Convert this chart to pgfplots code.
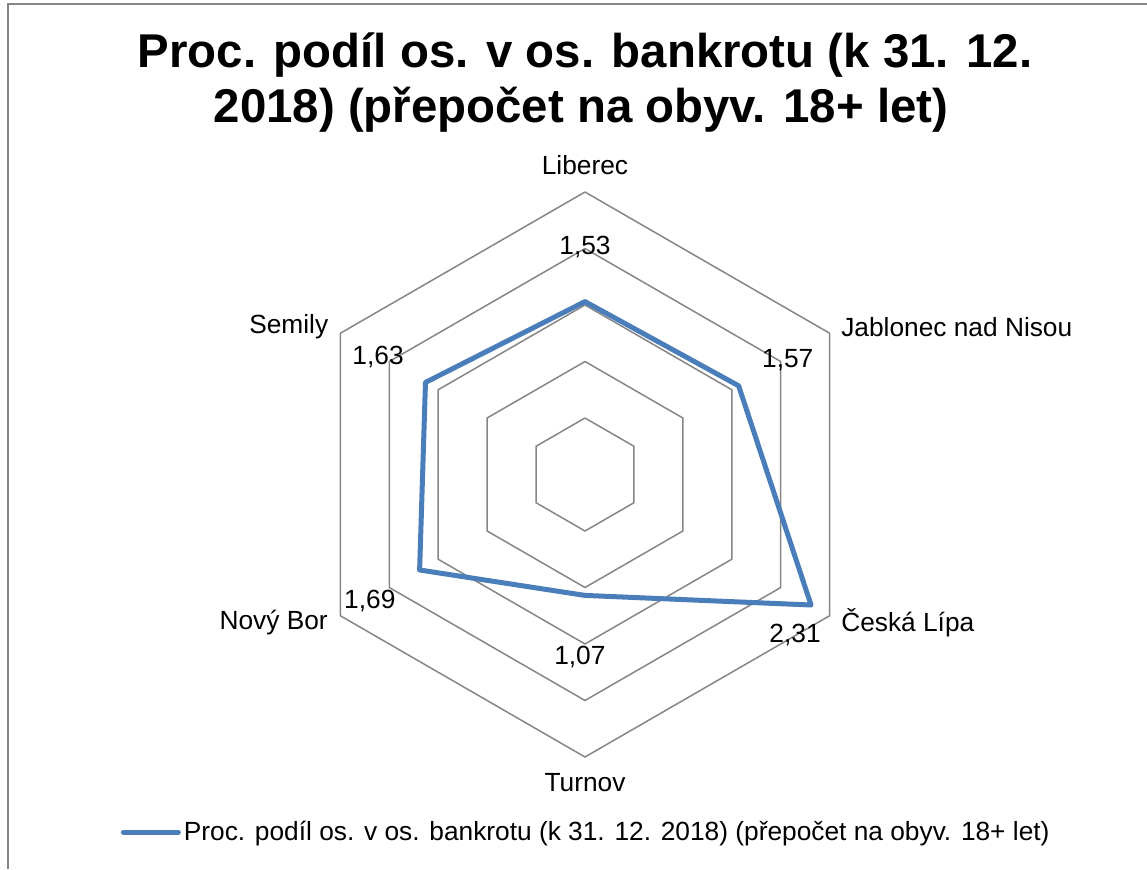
\documentclass[border=0pt]{standalone}
\usepackage{fontspec}
\setmainfont{Liberation Sans}
\usepackage{pgfplots}
\pgfplotsset{compat=1.18}
\usepgfplotslibrary{polar}
\definecolor{serblue}{HTML}{4A7EBB}
\definecolor{gridgray}{HTML}{868686}
\begin{document}
\begin{tikzpicture}
\useasboundingbox (0,0) rectangle (573.5pt,434.5pt);
\fill[white] (0,0) rectangle (573.5pt,434.5pt);
\draw[gridgray,line width=0.6pt] (4pt,0) -- (4pt,432.5pt) -- (573.5pt,432.5pt);
\node[font=\fontsize{23.7}{28}\selectfont\bfseries,anchor=base,inner sep=0pt] at (292.5pt,400.5pt) {Proc. podíl os. v os. bankrotu (k 31. 12.};
\node[font=\fontsize{23.7}{28}\selectfont\bfseries,anchor=base,inner sep=0pt] at (290.5pt,373pt) {2018) (přepočet na obyv. 18+ let)};
\begin{polaraxis}[
  at={(292.5pt,197.25pt)}, anchor=center,
  scale only axis, width=282.5pt, height=282.5pt,
  xmin=0, xmax=360, ymin=0, ymax=2.5, hide axis, clip=false,
  legend style={draw=none, fill=none, at={(0.503,-0.133)}, anchor=center, font=\fontsize{13.15}{15}\selectfont, nodes={inner sep=1.5pt}},
  legend cell align=left,
  legend image code/.code={\draw[#1] (0pt,0pt) -- (27.5pt,0pt);},
]
\addplot[gridgray, line width=0.75pt, forget plot] coordinates {(90,0.5)(30,0.5)(330,0.5)(270,0.5)(210,0.5)(150,0.5)(90,0.5)};
\addplot[gridgray, line width=0.75pt, forget plot] coordinates {(90,1.0)(30,1.0)(330,1.0)(270,1.0)(210,1.0)(150,1.0)(90,1.0)};
\addplot[gridgray, line width=0.75pt, forget plot] coordinates {(90,1.5)(30,1.5)(330,1.5)(270,1.5)(210,1.5)(150,1.5)(90,1.5)};
\addplot[gridgray, line width=0.75pt, forget plot] coordinates {(90,2.0)(30,2.0)(330,2.0)(270,2.0)(210,2.0)(150,2.0)(90,2.0)};
\addplot[gridgray, line width=0.75pt, forget plot] coordinates {(90,2.5)(30,2.5)(330,2.5)(270,2.5)(210,2.5)(150,2.5)(90,2.5)};
\addplot[serblue, line width=2.5pt, line join=round, line cap=round] coordinates {(90,1.53)(30,1.57)(330,2.31)(270,1.07)(210,1.69)(150,1.63)(90,1.53)};
\addlegendentry{Proc. podíl os. v os. bankrotu (k 31. 12. 2018) (přepočet na obyv. 18+ let)}
\begin{scope}[font=\fontsize{13.15}{15}\selectfont]
\node at (axis cs:90,2.74) {Liberec};
\node[anchor=west,inner sep=0pt] at (axis cs:30,2.615) {Jablonec nad Nisou};
\node[anchor=west,inner sep=0pt] at (axis cs:330,2.615) {Česká Lípa};
\node at (axis cs:270,2.73) {Turnov};
\node[anchor=east,inner sep=0pt] at (axis cs:210,2.625) {Nový Bor};
\node[anchor=east,inner sep=0pt] at (axis cs:150,2.62) {Semily};
\node at (axis cs:90,2.01) {1,53};
\node at (axis cs:29.4,2.06) {1,57};
\node at (axis cs:322.6,2.34) {2,31};
\node at (axis cs:268.4,1.616) {1,07};
\node at (axis cs:210.5,2.21) {1,69};
\node at (axis cs:150.4,2.106) {1,63};
\end{scope}
\end{polaraxis}
\end{tikzpicture}
\end{document}
